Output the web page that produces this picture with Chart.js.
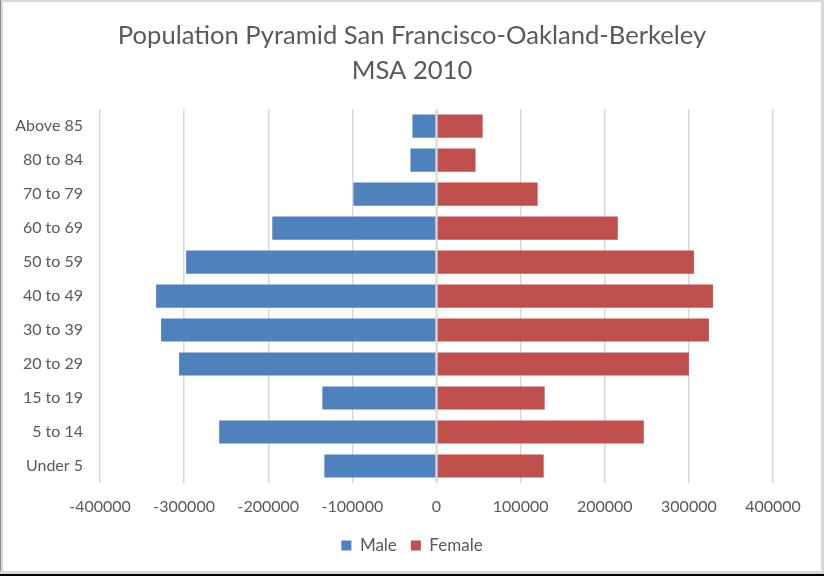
<!DOCTYPE html>
<html>
<head>
<meta charset="utf-8">
<script src="https://cdn.jsdelivr.net/npm/chart.js@4/dist/chart.umd.min.js"></script>
<style>
  html, body { margin: 0; padding: 0; background: #ffffff; }
  #wrap { position: relative; width: 824px; height: 576px; overflow: hidden; }
  #c { position: absolute; left: 0; top: 0; }
  .f { position: absolute; pointer-events: none; }
</style>
</head>
<body>
<div id="wrap">
  <canvas id="c" width="824" height="576"></canvas>
  <div class="f" style="left:0;top:0;width:824px;height:2px;background:#d9d9d9"></div>
  <div class="f" style="left:0;top:0;width:1px;height:576px;background:#8c8c8c"></div>
  <div class="f" style="left:1px;top:0;width:2px;height:574px;background:#d9d9d9"></div>
  <div class="f" style="left:821px;top:0;width:3px;height:574px;background:#d9d9d9"></div>
  <div class="f" style="left:0;top:571px;width:824px;height:3px;background:#d9d9d9"></div>
  <div class="f" style="left:0;top:574px;width:824px;height:2px;background:#000000"></div>
</div>
<script>
const titleLines = ['Population Pyramid San Francisco-Oakland-Berkeley', 'MSA 2010'];
const ageGroups = ['Above 85', '80 to 84', '70 to 79', '60 to 69', '50 to 59', '40 to 49',
                   '30 to 39', '20 to 29', '15 to 19', '5 to 14', 'Under 5'];
const maleValues = [-28600, -31000, -98800, -195200, -297600, -333300,
                    -327400, -306000, -135700, -258300, -133300];
const femaleValues = [54800, 46400, 120200, 215500, 306000, 328600,
                      323800, 300000, 128600, 246400, 127400];
const xTickValues = [-400000, -300000, -200000, -100000, 0, 100000, 200000, 300000, 400000];
const seriesNames = ['Male', 'Female'];

const FONT = 'Lato, "Open Sans", "Liberation Sans", sans-serif';
const TEXT = '#595959';
const GRID = '#d9d9d9';

const zeroLine = {
  id: 'zeroLine',
  afterDatasetsDraw(chart) {
    const x = chart.scales.x.getPixelForValue(0);
    const a = chart.chartArea;
    const ctx = chart.ctx;
    ctx.save();
    ctx.strokeStyle = GRID;
    ctx.lineWidth = 2;
    ctx.beginPath();
    ctx.moveTo(x, a.top);
    ctx.lineTo(x, a.bottom);
    ctx.stroke();
    ctx.restore();
  }
};

new Chart(document.getElementById('c'), {
  type: 'bar',
  data: {
    labels: ageGroups,
    datasets: [
      { label: seriesNames[0], data: maleValues, backgroundColor: '#4f81bd', borderWidth: 0 },
      { label: seriesNames[1], data: femaleValues, backgroundColor: '#c0504d', borderWidth: 0 }
    ]
  },
  plugins: [zeroLine],
  options: {
    indexAxis: 'y',
    responsive: false,
    animation: false,
    devicePixelRatio: 1,
    categoryPercentage: 0.68,
    barPercentage: 1.0,
    layout: { padding: { left: 0, right: 0, top: 0, bottom: 12 } },
    plugins: {
      title: {
        display: true,
        text: titleLines,
        color: TEXT,
        font: { family: FONT, size: 25.6, weight: 'normal', lineHeight: 1.37 },
        padding: { top: 18, bottom: 21 }
      },
      legend: {
        display: true,
        position: 'bottom',
        labels: {
          color: TEXT,
          font: { family: FONT, size: 17 },
          boxWidth: 10,
          boxHeight: 10,
          padding: 14
        }
      },
      tooltip: { enabled: false }
    },
    scales: {
      x: {
        stacked: true,
        min: -400000,
        max: 400000,
        afterBuildTicks(scale) { scale.ticks = xTickValues.map(v => ({ value: v })); },
        afterFit(scale) { scale.height = 40; },
        ticks: {
          color: TEXT,
          font: { family: FONT, size: 16 },
          padding: 14,
          maxRotation: 0,
          callback: (v) => String(v)
        },
        grid: { color: GRID, lineWidth: 1.5, drawTicks: false },
        border: { display: false }
      },
      y: {
        stacked: true,
        afterFit(scale) { scale.width = 100; },
        ticks: {
          color: TEXT,
          font: { family: FONT, size: 16 },
          padding: 17
        },
        grid: { display: false, drawTicks: false },
        border: { display: false }
      },
      yRight: {
        type: 'category',
        axis: 'y',
        position: 'right',
        display: true,
        afterFit(scale) { scale.width = 51; },
        ticks: { display: false },
        grid: { display: false, drawTicks: false },
        border: { display: false }
      }
    }
  }
});
</script>
</body>
</html>
